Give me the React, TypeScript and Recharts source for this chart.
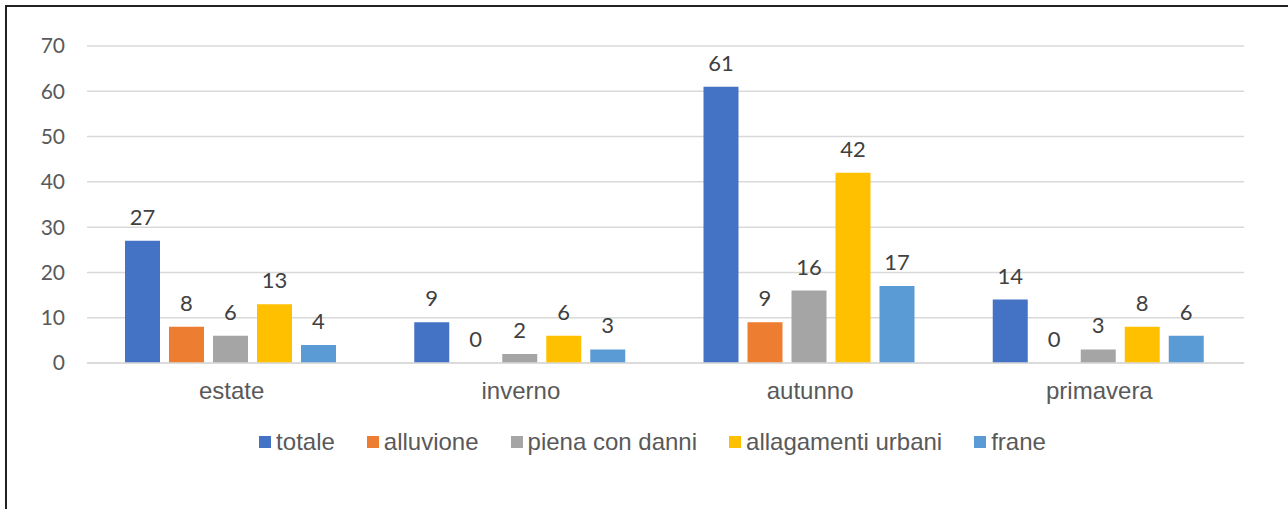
import { BarChart, Bar, XAxis, YAxis, CartesianGrid, Legend, LabelList } from "recharts";

const seasons = ["estate", "inverno", "autunno", "primavera"];
const totale = [27, 9, 61, 14];
const alluvione = [8, 0, 9, 0];
const pienaConDanni = [6, 2, 16, 3];
const allagamentiUrbani = [13, 6, 42, 8];
const frane = [4, 3, 17, 6];
const yTicks = [0, 10, 20, 30, 40, 50, 60, 70];

const series = [
  { key: "totale", name: "totale", color: "#4472C4" },
  { key: "alluvione", name: "alluvione", color: "#ED7D31" },
  { key: "piena", name: "piena con danni", color: "#A5A5A5" },
  { key: "allagamenti", name: "allagamenti urbani", color: "#FFC000" },
  { key: "frane", name: "frane", color: "#5B9BD5" },
];

const data = seasons.map((s, i) => ({
  season: s,
  totale: totale[i],
  alluvione: alluvione[i],
  piena: pienaConDanni[i],
  allagamenti: allagamentiUrbani[i],
  frane: frane[i],
}));

const textFont = "'Liberation Sans', Arial, sans-serif";
const numFont = "Lato, 'Open Sans', sans-serif";

function LegendContent() {
  return (
    <div
      style={{
        height: 30,
        display: "flex",
        justifyContent: "center",
        alignItems: "center",
        fontFamily: textFont,
        fontSize: 24,
        color: "#595959",
        paddingLeft: 34,
      }}
    >
      {series.map((s) => (
        <div key={s.key} style={{ display: "flex", alignItems: "center", margin: "0 16px" }}>
          <span
            style={{ width: 12, height: 12, background: s.color, display: "inline-block", marginRight: 5 }}
          />
          <span>{s.name}</span>
        </div>
      ))}
    </div>
  );
}

export default function App() {
  return (
    <div
      style={{
        position: "absolute",
        left: 5,
        top: 5,
        width: 1290,
        height: 510,
        borderLeft: "2px solid #222",
        borderTop: "2px solid #222",
        background: "#fff",
        boxSizing: "border-box",
      }}
    >
      <div style={{ position: "absolute", left: 1, top: 1 }}>
        <BarChart
          width={1280}
          height={500}
          data={data}
          margin={{ top: 38, right: 44, left: 19, bottom: 51 }}
          barCategoryGap={38}
          barGap={9}
        >
          <CartesianGrid vertical={false} stroke="#D9D9D9" strokeWidth={1.5} />
          <XAxis
            dataKey="season"
            height={64}
            axisLine={{ stroke: "#D9D9D9", strokeWidth: 1.5 }}
            tickLine={false}
            tickSize={0}
            tickMargin={19}
            tick={{ fill: "#595959", fontSize: 24, fontFamily: textFont }}
          />
          <YAxis
            width={60}
            domain={[0, 70]}
            ticks={yTicks}
            axisLine={false}
            tickLine={false}
            tickSize={0}
            tickMargin={22}
            tick={{ fill: "#595959", fontSize: 21, fontFamily: numFont }}
          />
          <Legend verticalAlign="bottom" content={<LegendContent />} />
          {series.map((s) => (
            <Bar
              key={s.key}
              dataKey={s.key}
              name={s.name}
              fill={s.color}
              minPointSize={0.01}
              isAnimationActive={false}
            >
              <LabelList
                dataKey={s.key}
                position="top"
                offset={16}
                fill="#404040"
                fontSize={22}
                fontFamily={numFont}
              />
            </Bar>
          ))}
        </BarChart>
      </div>
    </div>
  );
}
